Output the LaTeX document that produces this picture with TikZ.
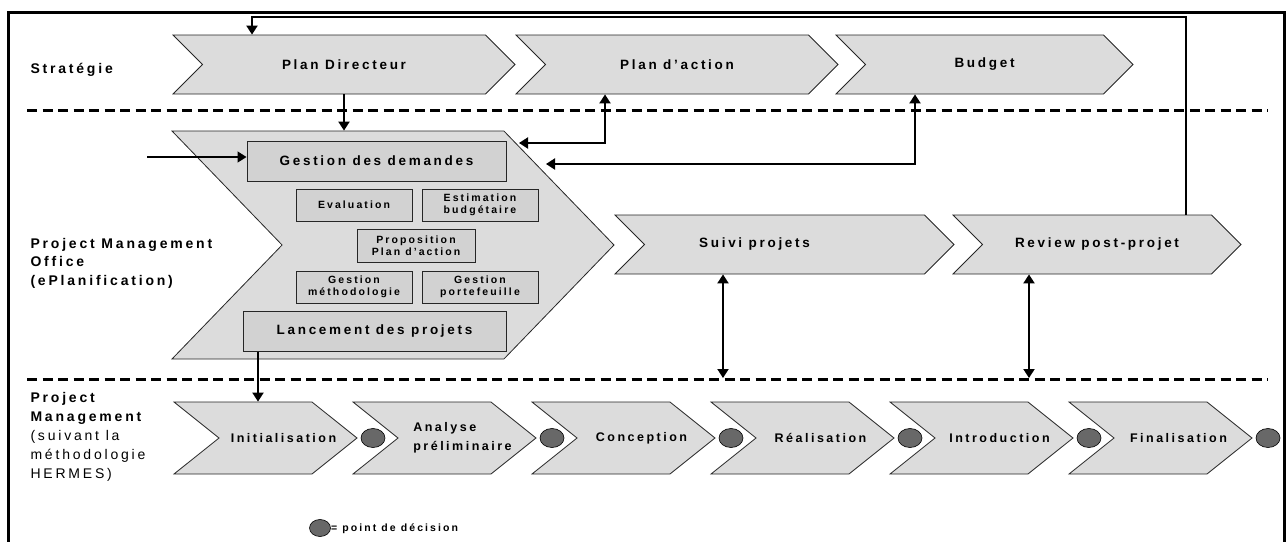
\documentclass[tikz,border=0pt]{standalone}
\usepackage{fontspec}
\setmainfont{Liberation Sans}
\newfontfamily\spaced{Liberation Sans}[LetterSpace=20]
\usetikzlibrary{shapes.symbols,shapes.geometric,arrows.meta}
\definecolor{chevgray}{HTML}{DCDCDC}
\definecolor{boxgray}{HTML}{D2D2D2}
\definecolor{dotgray}{HTML}{686868}
\begin{document}
\begin{tikzpicture}[x=1pt,y=-1pt,
	>={Triangle[length=9pt,width=11pt]},
	chev/.style={signal,signal to=east,signal from=west,signal pointer angle=90,draw=black!85,line width=0.8pt,fill=chevgray,inner sep=0pt,font=\spaced\bfseries\fontsize{13.5}{16}\selectfont},
	box/.style={rectangle,draw=black!85,line width=1pt,fill=boxgray,inner sep=0pt,align=center},
	bigtext/.style={font=\spaced\bfseries\fontsize{13.5}{16}\selectfont},
	smalltext/.style={font=\spaced\bfseries\fontsize{10.5}{12.5}\selectfont},
	phasetext/.style={font=\spaced\bfseries\fontsize{12.5}{19}\selectfont},
	side/.style={font=\spaced\fontsize{14}{19}\selectfont,align=left,anchor=west},
	dot/.style={ellipse,draw=black,line width=0.6pt,fill=dotgray,minimum width=24pt,minimum height=19pt,inner sep=0pt},
	link/.style={line width=2pt},
	sep/.style={line width=3pt,dash pattern=on 10pt off 5.5pt}]
		
		\useasboundingbox (0,0) rectangle (1288,541);
		%frame
		\draw[line width=3pt] (8.5,545) |- (1284,12) -- (1284,545);
		%separators
		\draw[sep] (27,110) -- (1268,110);
		\draw[sep] (27,379) -- (1268,379);
		%labels
		\node[side,font=\spaced\bfseries\fontsize{14}{19}\selectfont] (st) at (27,70) {Stratégie};
		\node[side,font=\spaced\bfseries\fontsize{14}{18.5}\selectfont] (pmol) at (27,263) {Project Management\\Office\\(ePlanification)};
		\node[side] (pml) at (27,437) {\bfseries Project\\\bfseries Management\\(suivant la\\méthodologie\\HERMES)};
		%strategy
		\node[chev,minimum width=342,minimum height=59] (pd) at (344,64.5) {Plan Directeur};
		\node[chev,minimum width=322,minimum height=59] (pa) at (677,64.5) {Plan d’action};
		\node[chev,minimum width=297,minimum height=59] (bu) at (984.5,64.5) {Budget};
		%pmo
		\node[chev,signal pointer angle=92,minimum width=442,minimum height=228] (pmo) at (393,245) {};
		\node[box,bigtext,minimum width=259,minimum height=40] (gd) at (376.5,161) {Gestion des demandes};
		\node[box,smalltext,minimum width=116,minimum height=32] (ev) at (354,205) {Evaluation};
		\node[box,smalltext,minimum width=116,minimum height=32] (eb) at (480,205) {Estimation\\budgétaire};
		\node[box,smalltext,minimum width=118,minimum height=33] (pp) at (416,245.5) {Proposition\\Plan d’action};
		\node[box,smalltext,minimum width=116,minimum height=32] (gm) at (354,287) {Gestion\\méthodologie};
		\node[box,smalltext,minimum width=116,minimum height=32] (gp) at (480,287) {Gestion\\portefeuille};
		\node[box,bigtext,minimum width=263,minimum height=40] (lp) at (374.5,331) {Lancement des projets};
		\node[chev,minimum width=339,minimum height=59,label={[name=spt,bigtext,xshift=-30pt]center:Suivi projets}] (sp) at (784.5,244.5) {};
		\node[chev,minimum width=288,minimum height=59] (rv) at (1097,244.5) {Review post-projet};
		%hermes phases
		\node[chev,signal pointer angle=77.3,minimum width=183,minimum height=72,label={[name=init,phasetext,xshift=18pt]center:Initialisation}] (ini) at (265.5,438) {};
		\node[chev,signal pointer angle=77.3,minimum width=183,minimum height=72,label={[name=anat,phasetext,align=left,xshift=18pt]center:{Analyse\\préliminaire}}] (ana) at (444.5,438) {};
		\node[chev,signal pointer angle=77.3,minimum width=183,minimum height=72,label={[name=cont,phasetext,xshift=18pt]center:Conception}] (con) at (623.5,438) {};
		\node[chev,signal pointer angle=77.3,minimum width=183,minimum height=72,label={[name=reat,phasetext,xshift=18pt]center:Réalisation}] (rea) at (802.5,438) {};
		\node[chev,signal pointer angle=77.3,minimum width=183,minimum height=72,label={[name=intt,phasetext,xshift=18pt]center:Introduction}] (int) at (981.5,438) {};
		\node[chev,signal pointer angle=77.3,minimum width=183,minimum height=72,label={[name=fint,phasetext,xshift=18pt]center:Finalisation}] (fin) at (1160.5,438) {};
		%decision points
		\node[dot] (d1) at (373,438) {};
		\node[dot] (d2) at (552,438) {};
		\node[dot] (d3) at (731,438) {};
		\node[dot] (d4) at (910,438) {};
		\node[dot] (d5) at (1089,438) {};
		\node[dot] (d6) at (1268,438) {};
		%legend
		\node[dot,minimum width=21pt,minimum height=17pt] (lg) at (320,528) {};
		\node[smalltext,anchor=west,inner sep=0pt] (lgt) at (331,529) {= point de décision};
		%arrows
		\coordinate (fb) at (252,16.5);
		\coordinate (fbr) at (1186,16.5);
		\coordinate (pax) at (605,0);
		\coordinate (pae) at (519,143);
		\coordinate (bux) at (915,0);
		\coordinate (bue) at (546,164);
		\coordinate (inp) at (147,157);
		\coordinate (lpx) at (258,0);
		\coordinate (spd) at (723,378);
		\coordinate (rvd) at (1029,378);
		\draw[link,->] (rv.north -| fbr) |- (fb) -- (pd.north -| fb);
		\draw[link,->] (pd.south) -- (pd.south |- pmo.north);
		\draw[link,<->] (pa.south -| pax) |- (pae);
		\draw[link,<->] (bu.south -| bux) |- (bue);
		\draw[link,->,line width=1.5pt] (inp) -- (inp -| gd.west);
		\draw[link,->] (lp.south -| lpx) -- (ini.north -| lpx);
		\draw[link,<->] (sp.south -| spd) -- (spd);
		\draw[link,<->] (rv.south -| rvd) -- (rvd);
\end{tikzpicture}
\end{document}
